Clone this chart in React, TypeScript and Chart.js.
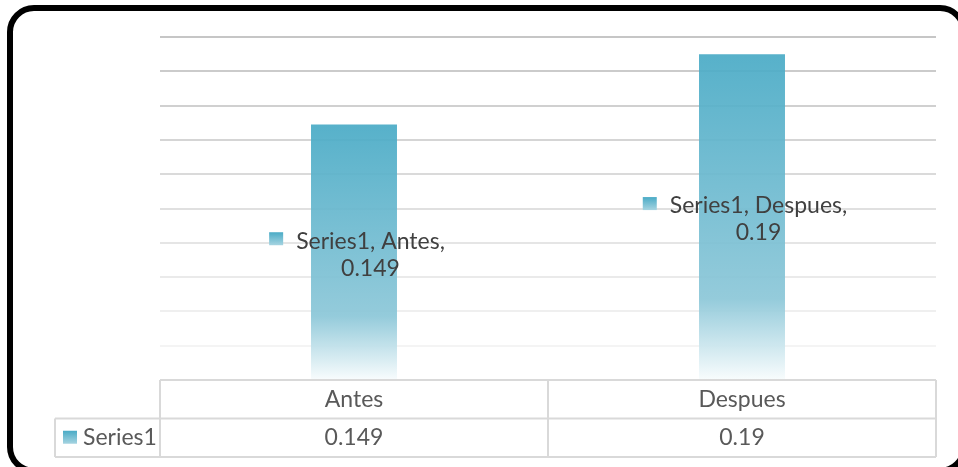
import React, { useEffect, useRef } from "react";
import { Chart, registerables } from "chart.js";

Chart.register(...registerables);

const categories = ["Antes", "Despues"];
const seriesName = "Series1";
const seriesValues = [0.149, 0.19];
const valueLabels = ["0.149", "0.19"];
const yMin = 0;
const yMax = 0.2;
const yStep = 0.02;

const FONT = "Lato, 'Noto Sans', sans-serif";
const FONT_SIZE = 23;
const LABEL_COLOR = "#404040";
const TABLE_TEXT = "#595959";
const TABLE_LINE = "#d9d9d9";

function barGradient(c: CanvasRenderingContext2D, top: number, bottom: number, alpha: number) {
  const g = c.createLinearGradient(0, top, 0, bottom);
  g.addColorStop(0, `rgba(74,171,198,${alpha})`);
  g.addColorStop(0.75, `rgba(140,199,216,${alpha})`);
  g.addColorStop(1, `rgba(248,252,253,${alpha})`);
  return g;
}

function drawKey(c: CanvasRenderingContext2D, x: number, y: number, w: number, h: number) {
  const g = c.createLinearGradient(0, y, 0, y + h);
  g.addColorStop(0, "#4aabc6");
  g.addColorStop(1, "#a6d4e1");
  c.fillStyle = g;
  c.fillRect(x, y, w, h);
}

const labelsPlugin = {
  id: "barLabels",
  afterDatasetsDraw(chart: any) {
    const c: CanvasRenderingContext2D = chart.ctx;
    const meta = chart.getDatasetMeta(0);
    c.save();
    c.font = `${FONT_SIZE}px ${FONT}`;
    c.textBaseline = "middle";
    c.textAlign = "center";
    meta.data.forEach((el: any, i: number) => {
      const line1 = `${seriesName}, ${categories[i]},`;
      const line2 = valueLabels[i];
      const tw = Math.max(c.measureText(line1).width, c.measureText(line2).width);
      const keyW = 14;
      const gap = 13;
      const blockW = keyW + gap + tw;
      const left = el.x - blockW / 2 + 3;
      const cy = (el.y + el.base) / 2 + 3;
      const lh = 27;
      const y1 = cy - lh / 2;
      const y2 = cy + lh / 2;
      drawKey(c, left, y1 - 9, keyW, 13);
      c.fillStyle = LABEL_COLOR;
      const tx = left + keyW + gap + tw / 2;
      c.fillText(line1, tx, y1);
      c.fillText(line2, tx, y2);
    });
    c.restore();
  },
};

const tablePlugin = {
  id: "dataTable",
  afterDraw(chart: any) {
    const c: CanvasRenderingContext2D = chart.ctx;
    const xs = chart.scales.x;
    const ys = chart.scales.y;
    const area = chart.chartArea;
    const top = Math.round(ys.getPixelForValue(0));
    const rowH = 38.5;
    const mid = top + rowH;
    const bottom = top + rowH * 2;
    const legendLeft = area.left - 105;
    c.save();
    c.strokeStyle = TABLE_LINE;
    c.lineWidth = 2;
    c.beginPath();
    c.moveTo(area.left, top);
    c.lineTo(area.right, top);
    c.moveTo(legendLeft, mid);
    c.lineTo(area.right, mid);
    c.moveTo(legendLeft, bottom);
    c.lineTo(area.right, bottom);
    c.moveTo(legendLeft, mid);
    c.lineTo(legendLeft, bottom);
    c.moveTo(area.left, top);
    c.lineTo(area.left, bottom);
    c.moveTo(area.right, top);
    c.lineTo(area.right, bottom);
    for (let i = 0; i < categories.length - 1; i++) {
      const bx = (xs.getPixelForValue(i) + xs.getPixelForValue(i + 1)) / 2;
      c.moveTo(bx, top);
      c.lineTo(bx, bottom);
    }
    c.stroke();

    c.font = `${FONT_SIZE}px ${FONT}`;
    c.fillStyle = TABLE_TEXT;
    c.textAlign = "center";
    c.textBaseline = "middle";
    categories.forEach((cat, i) => {
      const px = xs.getPixelForValue(i);
      c.fillText(cat, px, top + rowH / 2);
      c.fillText(valueLabels[i], px, mid + rowH / 2);
    });
    drawKey(c, legendLeft + 8, mid + rowH / 2 - 7, 14, 13);
    c.fillStyle = TABLE_TEXT;
    c.textAlign = "left";
    c.fillText(seriesName, legendLeft + 28, mid + rowH / 2);
    c.restore();
  },
};

export default function App() {
  const ref = useRef<HTMLCanvasElement | null>(null);
  useEffect(() => {
    if (!ref.current) return;
    const chart = new Chart(ref.current, {
      type: "bar",
      data: {
        labels: categories,
        datasets: [
          {
            label: seriesName,
            data: seriesValues,
            backgroundColor: (ctx: any) => {
              const ch = ctx.chart;
              if (ctx.type !== "data" || !ch.chartArea || !ch.scales.y) return "#4aabc6";
              const y = ch.scales.y;
              const t = y.getPixelForValue(ctx.raw);
              const b = y.getPixelForValue(0);
              return barGradient(ch.ctx, t, b, 0.93);
            },
            borderWidth: 0,
            categoryPercentage: 1,
            barPercentage: 0.2216,
          },
        ],
      },
      options: {
        animation: false,
        responsive: false,
        maintainAspectRatio: false,
        layout: { padding: { left: 160, right: 22, top: 37, bottom: 87 } },
        plugins: { legend: { display: false }, tooltip: { enabled: false } },
        scales: {
          x: { display: false },
          y: {
            min: yMin,
            max: yMax,
            ticks: { display: false, stepSize: yStep },
            border: { display: false },
            grid: {
              drawTicks: false,
              lineWidth: 2,
              color: (ctx: any) => {
                const v = ctx.tick ? ctx.tick.value : 0;
                if (v <= 0.0001) return "rgba(0,0,0,0)";
                const f = (v - yStep) / (yMax - yStep);
                const g = Math.round(244 - f * (244 - 198));
                return `rgb(${g},${g},${g})`;
              },
            },
            afterFit: (scale: any) => {
              scale.width = 0;
            },
          },
        },
      },
      plugins: [labelsPlugin, tablePlugin],
    });
    return () => chart.destroy();
  }, []);

  return (
    <div style={{ position: "fixed", left: 0, top: 0, width: 958, height: 467, overflow: "hidden", background: "#fff" }}>
      <canvas ref={ref} width={958} height={467} style={{ position: "absolute", left: 0, top: 0, width: 958, height: 467, display: "block" }} />
      <div
        style={{
          position: "absolute",
          left: 7,
          top: 5,
          width: 960,
          height: 469,
          boxSizing: "border-box",
          border: "6px solid #000",
          borderRadius: 27,
          pointerEvents: "none",
        }}
      />
    </div>
  );
}
